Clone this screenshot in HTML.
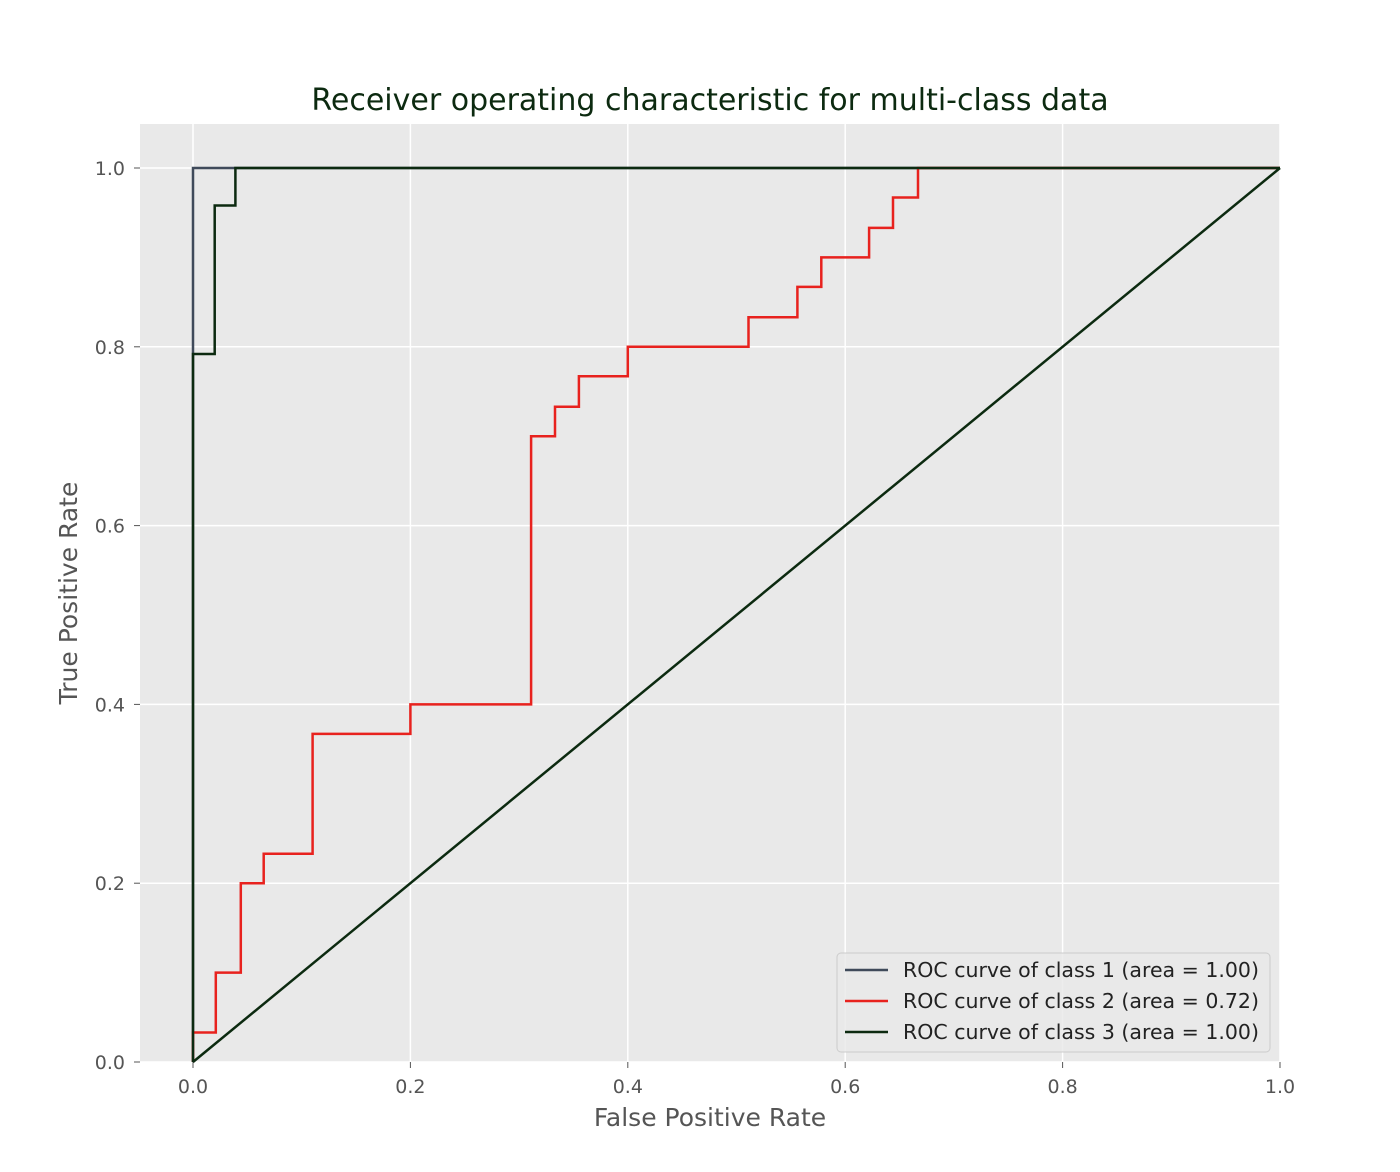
<!DOCTYPE html>
<html><head><meta charset="utf-8">
<style>
html,body{margin:0;padding:0;background:#fff;}
svg{display:block;font-family:"DejaVu Sans","Liberation Sans",sans-serif;}
</style></head>
<body>
<svg id="chart" width="1400" height="1172" viewBox="0 0 1400 1172" xmlns="http://www.w3.org/2000/svg">
<rect x="0" y="0" width="1400" height="1172" fill="#fff"/>
<rect x="140" y="124" width="1140" height="938" fill="#e9e9e9"/>
<g id="grid"></g>
<g id="ticks"></g>
<g id="series"></g>
<text x="710" y="110" text-anchor="middle" font-size="30" fill="#0c2a10">Receiver operating characteristic for multi-class data</text>
<text x="710" y="1126" text-anchor="middle" font-size="25" fill="#555">False Positive Rate</text>
<text x="0" y="0" transform="translate(77,593) rotate(-90)" text-anchor="middle" font-size="25" fill="#555">True Positive Rate</text>
<g id="legend"></g>
</svg>
<script>
const xTicks=[0,0.2,0.4,0.6,0.8,1.0];
const yTicks=[0,0.2,0.4,0.6,0.8,1.0];
const class1X=[0,0,0.04,1];
const class1Y=[0,1,1,1];
const class2X=[0,0,0.021,0.021,0.044,0.044,0.065,0.065,0.110,0.110,0.2,0.2,0.311,0.311,0.333,0.333,0.355,0.355,0.4,0.4,0.511,0.511,0.556,0.556,0.578,0.578,0.622,0.622,0.644,0.644,0.667,0.667,1];
const class2Y=[0,0.033,0.033,0.1,0.1,0.2,0.2,0.233,0.233,0.367,0.367,0.4,0.4,0.7,0.7,0.733,0.733,0.767,0.767,0.8,0.8,0.833,0.833,0.867,0.867,0.9,0.9,0.933,0.933,0.967,0.967,1,1];
const class3X=[0,0,0.02,0.02,0.039,0.039,1];
const class3Y=[0,0.792,0.792,0.958,0.958,1,1];
const diagX=[0,1];
const diagY=[0,1];
const legendLabels=["ROC curve of class 1 (area = 1.00)","ROC curve of class 2 (area = 0.72)","ROC curve of class 3 (area = 1.00)"];
const colors=["#3f4a5a","#e8221e","#0c2a10"];

const NS="http://www.w3.org/2000/svg";
const xs=v=>193+v*1087;
const ys=v=>1062-v*894;
function mk(tag,attrs,parent){const e=document.createElementNS(NS,tag);for(const k in attrs)e.setAttribute(k,attrs[k]);parent.appendChild(e);return e;}
const grid=document.getElementById('grid'),ticks=document.getElementById('ticks'),series=document.getElementById('series'),legend=document.getElementById('legend');
xTicks.forEach(t=>{
  const l=mk('line',{x1:xs(t),x2:xs(t),y1:124,y2:1062,stroke:'#fff','stroke-width':1.5},grid);
  
  
  const tk=mk('line',{x1:xs(t),x2:xs(t),y1:1062,y2:1068,stroke:'#555','stroke-width':1},ticks);
  
  
  const tx=mk('text',{x:xs(t),y:1093,'text-anchor':'middle','font-size':19,fill:'#555'},ticks);
  tx.textContent=t.toFixed(1);
  
  
});
yTicks.forEach(t=>{
  const l=mk('line',{x1:140,x2:1280,y1:ys(t),y2:ys(t),stroke:'#fff','stroke-width':1.5},grid);
  
  
  const tk=mk('line',{x1:134,x2:140,y1:ys(t),y2:ys(t),stroke:'#555','stroke-width':1},ticks);
  
  
  const tx=mk('text',{x:125,y:ys(t)+7,'text-anchor':'end','font-size':19,fill:'#555'},ticks);
  tx.textContent=t.toFixed(1);
  
  
});
function path(X,Y){return X.map((x,i)=>(i?'L':'M')+xs(x).toFixed(1)+' '+ys(Y[i]).toFixed(1)).join(' ');}
const p1=mk('path',{d:path(class1X,class1Y),fill:'none',stroke:colors[0],'stroke-width':2.5},series);


const p2=mk('path',{d:path(class2X,class2Y),fill:'none',stroke:colors[1],'stroke-width':2.5},series);


const p3=mk('path',{d:path(class3X,class3Y),fill:'none',stroke:colors[2],'stroke-width':2.5},series);


const pd=mk('path',{d:path(diagX,diagY),fill:'none',stroke:colors[2],'stroke-width':2.5},series);


const box=mk('rect',{x:837,y:953,width:433,height:99,rx:4,fill:'#e9e9e9','fill-opacity':0.8,stroke:'#ccc','stroke-width':1},legend);


legendLabels.forEach((lab,i)=>{
  const y=970+i*31;
  const g=mk('g',{},legend);
  
  
  mk('line',{x1:845,x2:888,y1:y,y2:y,stroke:colors[i],'stroke-width':2.5},g);
  const t=mk('text',{x:903,y:y+7,'font-size':20.5,fill:'#222'},g);
  t.textContent=lab;
});
</script>
</body></html>
